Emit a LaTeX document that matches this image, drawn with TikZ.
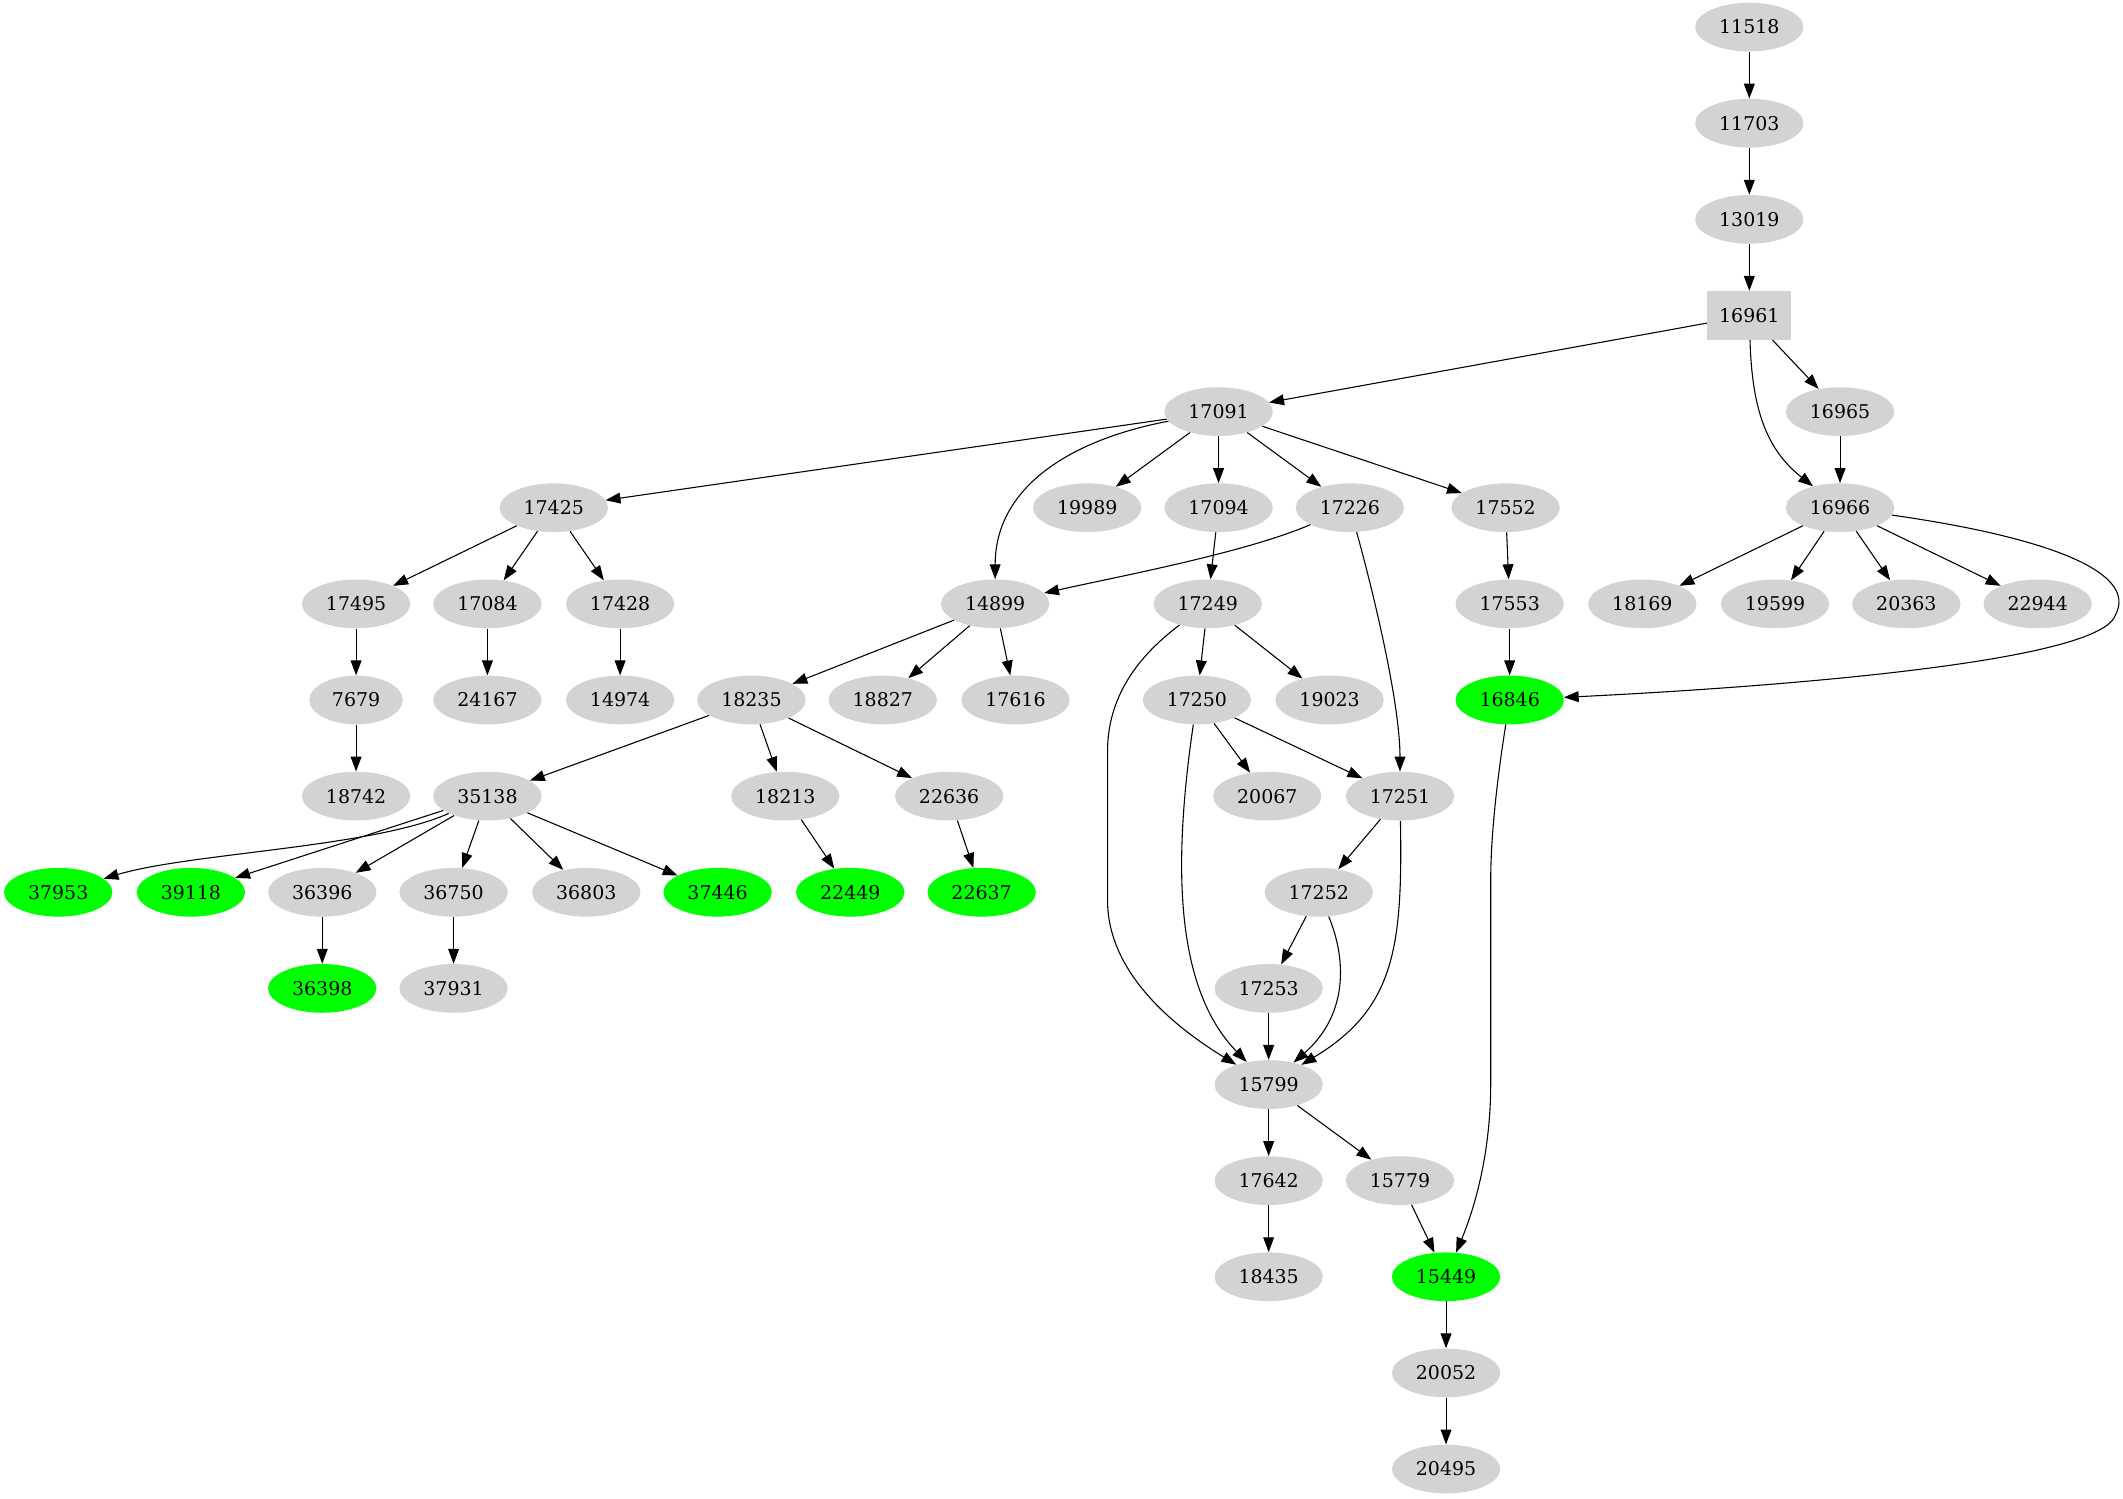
\documentclass[tikz,border=0pt]{standalone}
\usepackage{fontspec}
\setmainfont{DejaVu Serif}
\usetikzlibrary{shapes.geometric,arrows.meta}
\definecolor{lgray}{RGB}{211,211,211}
\definecolor{vgreen}{RGB}{0,255,0}
\begin{document}
\begin{tikzpicture}[x=1pt,y=-1pt,
  nd/.style={ellipse,fill=lgray,minimum width=80pt,minimum height=36pt,inner sep=0pt,font=\fontsize{14pt}{16pt}\selectfont},
  gnd/.style={nd,fill=vgreen},
  bx/.style={rectangle,fill=lgray,minimum width=62pt,minimum height=36pt,inner sep=0pt,font=\fontsize{14pt}{16pt}\selectfont},
  conn/.style={-{Triangle[length=11pt,width=8pt]},line width=0.8pt}]
\useasboundingbox (0,0) rectangle (1568,1107);
% rank 0-3
\node[nd] (n11518) at (1292,20) {11518};
\node[nd] (n11703) at (1292,91) {11703};
\node[nd] (n13019) at (1292,162) {13019};
\node[bx] (n16961) at (1292,233) {16961};
% rank 4
\node[nd] (n17091) at (900,304) {17091};
\node[nd] (n16965) at (1359,304) {16965};
% rank 5
\node[nd] (n17425) at (409,375) {17425};
\node[nd] (n19989) at (803,375) {19989};
\node[nd] (n17094) at (900,375) {17094};
\node[nd] (n17226) at (997,375) {17226};
\node[nd] (n17552) at (1112,375) {17552};
\node[nd] (n16966) at (1359,375) {16966};
% rank 6
\node[nd] (n17495) at (263,446) {17495};
\node[nd] (n17084) at (360,446) {17084};
\node[nd] (n17428) at (458,446) {17428};
\node[nd] (n14899) at (735,446) {14899};
\node[nd] (n17249) at (892,446) {17249};
\node[nd] (n17553) at (1115,446) {17553};
\node[nd] (n18169) at (1213,446) {18169};
\node[nd] (n19599) at (1311,446) {19599};
\node[nd] (n20363) at (1408,446) {20363};
\node[nd] (n22944) at (1505,446) {22944};
% rank 7
\node[nd,minimum width=69pt] (n7679) at (263,517) {7679};
\node[nd] (n24167) at (360,517) {24167};
\node[nd] (n14974) at (458,517) {14974};
\node[nd] (n18235) at (555,517) {18235};
\node[nd] (n18827) at (652,517) {18827};
\node[nd] (n17616) at (750,517) {17616};
\node[nd] (n17250) at (884,517) {17250};
\node[nd] (n19023) at (982,517) {19023};
\node[gnd] (n16846) at (1115,517) {16846};
% rank 8
\node[nd] (n18742) at (263,588) {18742};
\node[nd] (n35138) at (360,588) {35138};
\node[nd] (n18213) at (580,588) {18213};
\node[nd] (n22636) at (701,588) {22636};
\node[nd] (n20067) at (936,588) {20067};
\node[nd] (n17251) at (1034,588) {17251};
% rank 9
\node[gnd] (n37953) at (43,659) {37953};
\node[gnd] (n39118) at (141,659) {39118};
\node[nd] (n36396) at (238,659) {36396};
\node[nd] (n36750) at (335,659) {36750};
\node[nd] (n36803) at (433,659) {36803};
\node[gnd] (n37446) at (530,659) {37446};
\node[gnd] (n22449) at (628,659) {22449};
\node[gnd] (n22637) at (725,659) {22637};
\node[nd] (n17252) at (974,659) {17252};
% rank 10
\node[gnd] (n36398) at (238,730) {36398};
\node[nd] (n37931) at (335,730) {37931};
\node[nd] (n17253) at (937,730) {17253};
% rank 11-15
\node[nd] (n15799) at (937,801) {15799};
\node[nd] (n17642) at (937,872) {17642};
\node[nd] (n15779) at (1034,872) {15779};
\node[nd] (n18435) at (937,943) {18435};
\node[gnd] (n15449) at (1068,943) {15449};
\node[nd] (n20052) at (1068,1014) {20052};
\node[nd] (n20495) at (1068,1085) {20495};

% edges
\draw[conn] (n11518) -- (n11703);
\draw[conn] (n11703) -- (n13019);
\draw[conn] (n13019) -- (n16961);
\draw[conn] (n16961) -- (n17091);
\draw[conn] (n16961) -- (n16965);
\draw[conn] (n16961) .. controls (1294,305) and (1306,333) .. (n16966);
\draw[conn] (n16965) -- (n16966);
\draw[conn] (n17091) -- (n17425);
\draw[conn] (n17091) .. controls (790,325) and (735,360) .. (n14899);
\draw[conn] (n17091) -- (n19989);
\draw[conn] (n17091) -- (n17094);
\draw[conn] (n17091) -- (n17226);
\draw[conn] (n17091) -- (n17552);
\draw[conn] (n17425) -- (n17495);
\draw[conn] (n17425) -- (n17084);
\draw[conn] (n17425) -- (n17428);
\draw[conn] (n17495) -- (n7679);
\draw[conn] (n7679) -- (n18742);
\draw[conn] (n17084) -- (n24167);
\draw[conn] (n17428) -- (n14974);
\draw[conn] (n17226) .. controls (920,408) and (830,425) .. (n14899);
\draw[conn] (n17226) .. controls (1015,440) and (1034,520) .. (n17251);
\draw[conn] (n17094) -- (n17249);
\draw[conn] (n17552) -- (n17553);
\draw[conn] (n17553) -- (n16846);
\draw[conn] (n16966) -- (n18169);
\draw[conn] (n16966) -- (n19599);
\draw[conn] (n16966) -- (n20363);
\draw[conn] (n16966) -- (n22944);
\draw[conn] (n16966) .. controls (1500,395) and (1582,420) .. (1562,455) .. controls (1548,490) and (1300,508) .. (n16846);
\draw[conn] (n14899) -- (n18235);
\draw[conn] (n14899) -- (n18827);
\draw[conn] (n14899) -- (n17616);
\draw[conn] (n17249) -- (n17250);
\draw[conn] (n17249) -- (n19023);
\draw[conn] (n17249) .. controls (840,485) and (818,515) .. (818,555) -- (818,665) .. controls (818,720) and (870,760) .. (n15799);
\draw[conn] (n18235) -- (n35138);
\draw[conn] (n18235) -- (n18213);
\draw[conn] (n18235) -- (n22636);
\draw[conn] (n17250) -- (n20067);
\draw[conn] (n17250) -- (n17251);
\draw[conn] (n17250) .. controls (866,640) and (868,730) .. (n15799);
\draw[conn] (n16846) .. controls (1105,580) and (1101,620) .. (1101,650) -- (1101,800) .. controls (1101,850) and (1090,890) .. (n15449);
\draw[conn] (n35138) .. controls (275,626) and (140,630) .. (n37953);
\draw[conn] (n35138) -- (n39118);
\draw[conn] (n35138) -- (n36396);
\draw[conn] (n35138) -- (n36750);
\draw[conn] (n35138) -- (n36803);
\draw[conn] (n35138) -- (n37446);
\draw[conn] (n18213) -- (n22449);
\draw[conn] (n22636) -- (n22637);
\draw[conn] (n17251) -- (n17252);
\draw[conn] (n17251) .. controls (1036,700) and (1030,745) .. (n15799);
\draw[conn] (n36396) -- (n36398);
\draw[conn] (n36750) -- (n37931);
\draw[conn] (n17252) -- (n17253);
\draw[conn] (n17252) .. controls (995,710) and (995,750) .. (n15799);
\draw[conn] (n17253) -- (n15799);
\draw[conn] (n15799) -- (n17642);
\draw[conn] (n15799) -- (n15779);
\draw[conn] (n17642) -- (n18435);
\draw[conn] (n15779) -- (n15449);
\draw[conn] (n15449) -- (n20052);
\draw[conn] (n20052) -- (n20495);
\end{tikzpicture}
\end{document}
